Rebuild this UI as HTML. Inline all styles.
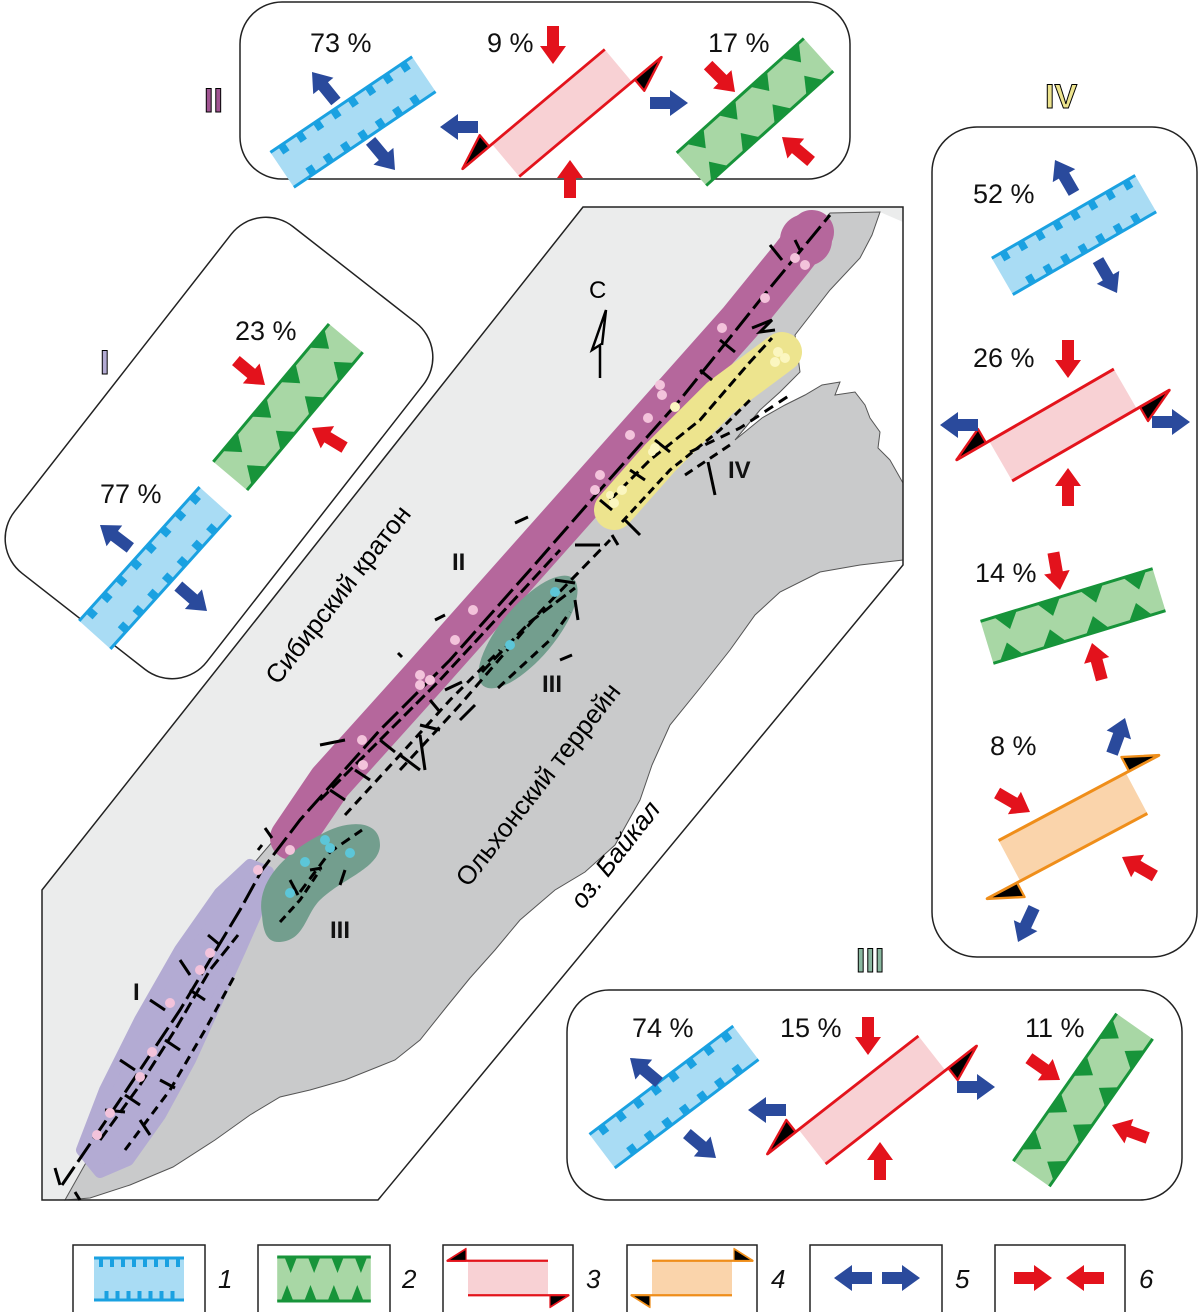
<!DOCTYPE html>
<html><head><meta charset="utf-8"><style>
html,body{margin:0;padding:0;background:#fff;}
svg{display:block;}
text{font-family:"Liberation Sans",sans-serif;}
</style></head><body>
<svg width="1200" height="1312" viewBox="0 0 1200 1312" xmlns="http://www.w3.org/2000/svg">
<defs>
<g id="ext">
 <rect x="-90" y="-21" width="180" height="42" fill="#a9dcf4"/>
 <g fill="#1aa1e1">
  <rect x="-80" y="-21" width="8" height="9"/><rect x="-58" y="-21" width="8" height="9"/><rect x="-36" y="-21" width="8" height="9"/><rect x="-14" y="-21" width="8" height="9"/><rect x="8" y="-21" width="8" height="9"/><rect x="30" y="-21" width="8" height="9"/><rect x="52" y="-21" width="8" height="9"/><rect x="74" y="-21" width="8" height="9"/>
  <rect x="-69" y="12" width="8" height="9"/><rect x="-47" y="12" width="8" height="9"/><rect x="-25" y="12" width="8" height="9"/><rect x="-3" y="12" width="8" height="9"/><rect x="19" y="12" width="8" height="9"/><rect x="41" y="12" width="8" height="9"/><rect x="63" y="12" width="8" height="9"/>
 </g>
 <line x1="-90" y1="-21" x2="90" y2="-21" stroke="#1aa1e1" stroke-width="3"/>
 <line x1="-90" y1="21" x2="90" y2="21" stroke="#1aa1e1" stroke-width="3"/>
</g>
<g id="comp">
 <rect x="-90" y="-22" width="180" height="44" fill="#a8d7a5"/>
 <g fill="#17943a">
  <polygon points="-76,-22 -52,-22 -64,-6"/><polygon points="-31,-22 -7,-22 -19,-6"/><polygon points="14,-22 38,-22 26,-6"/><polygon points="59,-22 83,-22 71,-6"/>
  <polygon points="-83,22 -59,22 -71,6"/><polygon points="-38,22 -14,22 -26,6"/><polygon points="7,22 31,22 19,6"/><polygon points="52,22 76,22 64,6"/>
 </g>
 <line x1="-90" y1="-22" x2="90" y2="-22" stroke="#17943a" stroke-width="3"/>
 <line x1="-90" y1="22" x2="90" y2="22" stroke="#17943a" stroke-width="3"/>
</g>
<g id="ss">
 <rect x="-80" y="-23" width="160" height="46" fill="#f8d1d4"/>
 <line x1="-122" y1="-23" x2="80" y2="-23" stroke="#e3141c" stroke-width="3"/>
 <line x1="-80" y1="23" x2="122" y2="23" stroke="#e3141c" stroke-width="3"/>
 <polygon points="-122,-23 -84,-39 -84,-23" fill="#000" stroke="#e3141c" stroke-width="2.5" stroke-linejoin="round"/>
 <polygon points="122,23 84,39 84,23" fill="#000" stroke="#e3141c" stroke-width="2.5" stroke-linejoin="round"/>
</g>
<g id="ob">
 <rect x="-80" y="-23" width="160" height="46" fill="#fad4ab"/>
 <line x1="-80" y1="-23" x2="122" y2="-23" stroke="#ef8e1a" stroke-width="3"/>
 <line x1="-122" y1="23" x2="80" y2="23" stroke="#ef8e1a" stroke-width="3"/>
 <polygon points="122,-23 84,-39 84,-23" fill="#000" stroke="#ef8e1a" stroke-width="2.5" stroke-linejoin="round"/>
 <polygon points="-122,23 -84,39 -84,23" fill="#000" stroke="#ef8e1a" stroke-width="2.5" stroke-linejoin="round"/>
</g>
<polygon id="ab" points="-38,-6 -18,-6 -18,-13 0,0 -18,13 -18,6 -38,6" fill="#2a4a9c"/>
<polygon id="ar" points="-38,-6 -18,-6 -18,-13 0,0 -18,13 -18,6 -38,6" fill="#e3121c"/>
</defs>

<!-- MAP -->
<polygon points="42,890 583,207 903,207 903,565 378,1200 42,1200" fill="#fff"/>
<polygon points="42,890 583,207 903,207 903,222 880,212 830,213 700,360 560,510 420,670 300,800 255,870 65,1200 42,1200" fill="#ebecec"/>
<path d="M65,1200 L255,862 L560,505 L830,213 L880,212 L872,235 L860,258 L830,290 L795,335 L800,372 L780,392 L760,410 L735,440 L762,418 L785,405 L805,395 L822,385 L840,382 L835,395 L855,392 L865,405 L870,418 L880,432 L878,448 L890,460 L903,483 L903,560 L860,565 L820,572 L780,592 L755,615 L730,650 L700,688 L670,725 L652,765 L640,800 L615,845 L585,872 L555,890 L520,920 L495,950 L470,978 L448,1005 L420,1040 L395,1060 L345,1080 L310,1090 L280,1097 L250,1115 L215,1140 L173,1167 L130,1185 L90,1198 Z" fill="#c9cacb" stroke="#555" stroke-width="1"/>
<polygon points="42,890 583,207 903,207 903,565 378,1200 42,1200" fill="none" stroke="#222" stroke-width="1.5"/>

<!-- zones -->
<path d="M82,1150 L105,1090 L140,1020 L180,950 L220,893 L250,865 L268,872 L262,900 L240,950 L215,1005 L190,1060 L160,1115 L128,1160 L100,1172 Z" fill="#b3abd3" stroke="#b3abd3" stroke-width="12" stroke-linejoin="round"/>
<path d="M292,838 L330,782 L420,682 L540,547 L660,412 L740,322 L792,258 L812,232" stroke="#b5679c" stroke-width="44" stroke-linecap="round" stroke-linejoin="round" fill="none"/>
<circle cx="806" cy="240" r="26" fill="#b5679c"/>
<path d="M614,510 L660,458 L720,398 L782,352" stroke="#ede48e" stroke-width="40" stroke-linecap="round" fill="none"/>
<ellipse cx="528" cy="632" rx="70" ry="27" transform="rotate(-50 528 632)" fill="#739e8e"/>
<path d="M262,915 C255,880 290,850 320,835 C345,820 380,818 380,845 C380,868 340,880 320,900 C305,915 305,940 280,942 C266,943 263,930 262,915 Z" fill="#739e8e"/>

<!-- faults -->
<g stroke="#000" stroke-width="3" fill="none" stroke-linecap="butt">
<polyline points="62,1185 120,1100 180,1010 240,910 262,870 300,820 380,730 450,660 530,570 600,490 680,400 760,300 830,215" stroke-dasharray="22 6"/>
<polyline points="100,1140 140,1085 175,1030 210,970 238,935" stroke-dasharray="12 5"/>
<polyline points="125,1150 170,1090 205,1030 235,975" stroke-dasharray="9 6"/>
<polyline points="320,800 380,740 440,680 500,615 560,550" stroke-dasharray="12 5"/>
<polyline points="345,815 400,755 450,700 500,650" stroke-dasharray="9 6"/>
<polyline points="400,770 460,705 540,612 610,540" stroke-dasharray="10 6"/>
<polyline points="610,500 650,460 700,420 750,362 772,338" stroke-dasharray="10 5"/>
<polyline points="622,522 670,470 720,430 750,400" stroke-dasharray="8 5"/>
<polyline points="482,672 530,622 575,588" stroke-dasharray="12 5"/>
<polyline points="498,688 550,640 570,612" stroke-dasharray="9 6"/>
<polyline points="300,892 330,852 362,830" stroke-dasharray="10 6"/>
<polyline points="280,922 300,900 320,870" stroke-dasharray="8 5"/>
<polyline points="690,452 740,428 790,395" stroke-dasharray="10 7"/>
<polyline points="685,475 730,445" stroke-dasharray="9 6"/>
<line x1="708" y1="462" x2="715" y2="495"/>
<path d="M752,328 L772,320 L760,332 L775,330"/>
<line x1="320" y1="745" x2="345" y2="740"/><line x1="400" y1="755" x2="420" y2="770"/>
<line x1="420" y1="735" x2="425" y2="770"/><line x1="515" y1="523" x2="528" y2="517"/>
<line x1="575" y1="545" x2="600" y2="545"/><line x1="555" y1="580" x2="575" y2="583"/>
<line x1="625" y1="520" x2="640" y2="535"/><line x1="612" y1="535" x2="618" y2="545"/>
<line x1="435" y1="620" x2="445" y2="615"/><line x1="398" y1="653" x2="402" y2="657"/>
<line x1="265" y1="828" x2="272" y2="838"/><line x1="258" y1="850" x2="262" y2="845"/>
<line x1="120" y1="1060" x2="135" y2="1070"/><line x1="150" y1="1000" x2="165" y2="1010"/>
<line x1="160" y1="1080" x2="175" y2="1088"/><line x1="105" y1="1110" x2="125" y2="1112"/>
<line x1="140" y1="1120" x2="150" y2="1135"/><line x1="180" y1="960" x2="190" y2="975"/>
<line x1="165" y1="1040" x2="180" y2="1050"/><line x1="190" y1="990" x2="205" y2="1000"/>
<line x1="125" y1="1095" x2="140" y2="1105"/><line x1="208" y1="935" x2="220" y2="945"/>
<line x1="55" y1="1168" x2="60" y2="1185"/><line x1="75" y1="1192" x2="80" y2="1200"/>
<line x1="770" y1="245" x2="782" y2="260"/><line x1="795" y1="240" x2="800" y2="250"/>
<line x1="310" y1="870" x2="322" y2="868"/><line x1="290" y1="880" x2="298" y2="895"/>
<line x1="340" y1="885" x2="345" y2="870"/>
<line x1="330" y1="790" x2="345" y2="800"/><line x1="355" y1="770" x2="370" y2="780"/>
<line x1="380" y1="740" x2="395" y2="752"/><line x1="430" y1="700" x2="440" y2="712"/>
<line x1="460" y1="720" x2="475" y2="705"/><line x1="420" y1="725" x2="440" y2="730"/>
<line x1="445" y1="690" x2="462" y2="682"/><line x1="600" y1="500" x2="612" y2="510"/>
<line x1="655" y1="440" x2="670" y2="452"/><line x1="630" y1="470" x2="645" y2="480"/>
<line x1="720" y1="340" x2="735" y2="352"/><line x1="700" y1="370" x2="712" y2="380"/>
<line x1="560" y1="660" x2="572" y2="655"/><line x1="575" y1="600" x2="578" y2="620"/>
</g>

<!-- dots -->
<g fill="#f3c3db">
<circle cx="795" cy="258" r="5"/><circle cx="805" cy="265" r="5"/><circle cx="765" cy="298" r="5"/><circle cx="722" cy="328" r="5"/>
<circle cx="660" cy="385" r="5"/><circle cx="662" cy="395" r="5"/><circle cx="648" cy="418" r="5"/><circle cx="630" cy="435" r="5"/>
<circle cx="600" cy="475" r="5"/><circle cx="595" cy="490" r="5"/><circle cx="473" cy="610" r="5"/><circle cx="455" cy="640" r="5"/>
<circle cx="420" cy="675" r="5"/><circle cx="430" cy="680" r="5"/><circle cx="420" cy="685" r="5"/><circle cx="362" cy="740" r="5"/><circle cx="363" cy="765" r="5"/>
<circle cx="290" cy="850" r="5"/><circle cx="258" cy="870" r="5"/><circle cx="210" cy="953" r="5"/><circle cx="200" cy="970" r="5"/>
<circle cx="170" cy="1003" r="5"/><circle cx="152" cy="1052" r="5"/><circle cx="140" cy="1077" r="5"/><circle cx="110" cy="1113" r="5"/><circle cx="97" cy="1135" r="5"/>
</g>
<g fill="#fbf6c0"><circle cx="778" cy="352" r="5"/><circle cx="785" cy="358" r="5"/><circle cx="775" cy="362" r="5"/><circle cx="675" cy="407" r="5"/><circle cx="655" cy="448" r="5"/><circle cx="652" cy="452" r="4"/><circle cx="622" cy="490" r="5"/><circle cx="614" cy="503" r="5"/><circle cx="610" cy="495" r="4"/></g>
<g fill="#5cc6d8"><circle cx="555" cy="592" r="5"/><circle cx="510" cy="645" r="5"/><circle cx="325" cy="840" r="5"/><circle cx="330" cy="848" r="5"/><circle cx="305" cy="862" r="5"/><circle cx="350" cy="853" r="5"/><circle cx="290" cy="893" r="5"/></g>

<!-- north arrow -->
<text x="589" y="298" font-size="24">C</text>
<path d="M600,378 L600,345 L592,350 L606,310 L602,345" stroke="#000" stroke-width="2.5" fill="none"/>

<!-- map labels -->
<g font-weight="bold" font-size="24" fill="#111">
<text x="452" y="570">II</text><text x="542" y="692">III</text><text x="330" y="938">III</text><text x="133" y="1000">I</text><text x="728" y="478">IV</text>
</g>
<text x="345" y="600" font-size="26" text-anchor="middle" transform="rotate(-52 345 600)">Сибирский кратон</text>
<text x="545" y="790" font-size="26" text-anchor="middle" transform="rotate(-52 545 790)">Ольхонский террейн</text>
<text x="622" y="860" font-size="26" font-style="italic" text-anchor="middle" transform="rotate(-52 622 860)">оз. Байкал</text>

<!-- BOX II -->
<rect x="240" y="2" width="610" height="177" rx="42" fill="#fff" stroke="#222" stroke-width="1.5"/>
<g font-size="27" fill="#111"><text x="310" y="52">73 %</text><text x="487" y="52">9 %</text><text x="708" y="52">17 %</text></g>
<use href="#ext" transform="translate(353,122) rotate(-34) scale(0.95,1)"/>
<use href="#ab" transform="translate(312,72) rotate(-129)"/>
<use href="#ab" transform="translate(395,170) rotate(50)"/>
<use href="#ss" transform="translate(562,113) rotate(-40) scale(0.92)"/>
<use href="#ar" transform="translate(553,64) rotate(90)"/>
<use href="#ar" transform="translate(570,160) rotate(-90)"/>
<use href="#ab" transform="translate(440,127) rotate(180)"/>
<use href="#ab" transform="translate(688,103) rotate(0)"/>
<use href="#comp" transform="translate(755,112) rotate(-42) scale(0.95,1)"/>
<use href="#ar" transform="translate(735,92) rotate(45)"/>
<use href="#ar" transform="translate(782,137) rotate(-140)"/>
<text x="204" y="112" font-size="34" font-weight="bold" fill="#a05492" stroke="#000" stroke-width="1">II</text>

<!-- BOX I -->
<rect x="-220" y="-122" width="440" height="244" rx="44" fill="#fff" stroke="#222" stroke-width="1.5" transform="translate(219,448) rotate(-52)"/>
<text x="100" y="374" font-size="34" font-weight="bold" fill="#b3abd3" stroke="#000" stroke-width="1">I</text>
<g font-size="27" fill="#111"><text x="235" y="340">23 %</text><text x="100" y="503">77 %</text></g>
<use href="#comp" transform="translate(288,407) rotate(-50)"/>
<use href="#ar" transform="translate(265,385) rotate(40)"/>
<use href="#ar" transform="translate(312,428) rotate(-149)"/>
<use href="#ext" transform="translate(155,568) rotate(-48)"/>
<use href="#ab" transform="translate(100,525) rotate(-143)"/>
<use href="#ab" transform="translate(207,611) rotate(41)"/>

<!-- BOX IV -->
<text x="1045" y="108" font-size="34" font-weight="bold" fill="#ede48e" stroke="#000" stroke-width="1">IV</text>
<rect x="932" y="127" width="265" height="830" rx="45" fill="#fff" stroke="#222" stroke-width="1.5"/>
<g font-size="27" fill="#111"><text x="973" y="203">52 %</text><text x="973" y="367">26 %</text><text x="975" y="582">14 %</text><text x="990" y="755">8 %</text></g>
<use href="#ext" transform="translate(1074,235) rotate(-30) scale(0.92,1)"/>
<use href="#ab" transform="translate(1055,160) rotate(-120)"/>
<use href="#ab" transform="translate(1117,293) rotate(60)"/>
<use href="#ss" transform="translate(1063,425) rotate(-30) scale(0.9,1)"/>
<use href="#ar" transform="translate(1068,378) rotate(90)"/>
<use href="#ar" transform="translate(1068,468) rotate(-90)"/>
<use href="#ab" transform="translate(940,425) rotate(180)"/>
<use href="#ab" transform="translate(1190,422) rotate(0)"/>
<use href="#comp" transform="translate(1073,616) rotate(-17)"/>
<use href="#ar" transform="translate(1060,590) rotate(80)"/>
<use href="#ar" transform="translate(1092,643) rotate(-105)"/>
<use href="#ob" transform="translate(1073,827) rotate(-28) scale(0.9,1)"/>
<use href="#ar" transform="translate(1030,812) rotate(30)"/>
<use href="#ar" transform="translate(1122,857) rotate(-150)"/>
<use href="#ab" transform="translate(1125,718) rotate(-70)"/>
<use href="#ab" transform="translate(1018,942) rotate(115)"/>

<!-- BOX III -->
<text x="856" y="972" font-size="34" font-weight="bold" fill="#8ab8a0" stroke="#000" stroke-width="1">III</text>
<rect x="567" y="990" width="615" height="210" rx="42" fill="#fff" stroke="#222" stroke-width="1.5"/>
<g font-size="27" fill="#111"><text x="632" y="1037">74 %</text><text x="780" y="1037">15 %</text><text x="1025" y="1037">11 %</text></g>
<use href="#ext" transform="translate(674,1097) rotate(-37)"/>
<use href="#ab" transform="translate(630,1058) rotate(-140)"/>
<use href="#ab" transform="translate(716,1158) rotate(40)"/>
<use href="#ss" transform="translate(872,1100) rotate(-38) scale(0.95)"/>
<use href="#ar" transform="translate(868,1055) rotate(90)"/>
<use href="#ar" transform="translate(880,1142) rotate(-90)"/>
<use href="#ab" transform="translate(748,1110) rotate(180)"/>
<use href="#ab" transform="translate(995,1087) rotate(0)"/>
<use href="#comp" transform="translate(1083,1100) rotate(-55)"/>
<use href="#ar" transform="translate(1060,1080) rotate(35)"/>
<use href="#ar" transform="translate(1112,1125) rotate(-160)"/>

<!-- LEGEND -->
<g fill="#fff" stroke="#222" stroke-width="1.5">
<rect x="73" y="1245" width="132" height="70"/><rect x="258" y="1245" width="132" height="70"/><rect x="443" y="1245" width="130" height="70"/>
<rect x="627" y="1245" width="130" height="70"/><rect x="810" y="1245" width="132" height="70"/><rect x="995" y="1245" width="130" height="70"/>
</g>
<use href="#ext" transform="translate(139,1279) scale(0.5,1)"/>
<use href="#comp" transform="translate(324,1279) scale(0.52,1)"/>
<use href="#ss" transform="translate(508,1278) scale(0.5,0.75)"/>
<use href="#ob" transform="translate(692,1278) scale(0.5,0.75)"/>
<use href="#ab" transform="translate(834,1278) rotate(180)"/>
<use href="#ab" transform="translate(920,1278)"/>
<use href="#ar" transform="translate(1052,1278)"/>
<use href="#ar" transform="translate(1066,1278) rotate(180)"/>
<g font-size="26" font-style="italic" fill="#111">
<text x="218" y="1288">1</text><text x="402" y="1288">2</text><text x="586" y="1288">3</text><text x="771" y="1288">4</text><text x="955" y="1288">5</text><text x="1139" y="1288">6</text>
</g>
</svg>
</body></html>
